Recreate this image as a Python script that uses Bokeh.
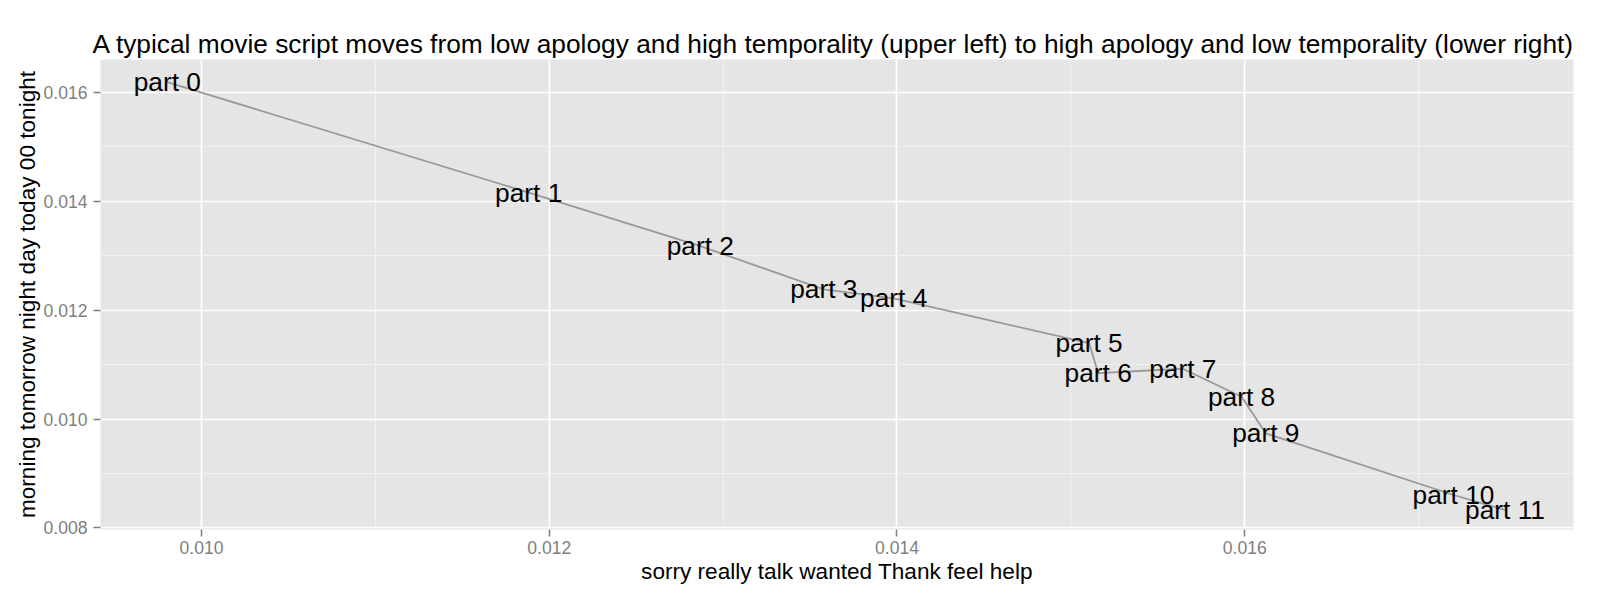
from bokeh.plotting import figure
from bokeh.models import ColumnDataSource, Range1d, FixedTicker, PrintfTickFormatter
from bokeh.core.properties import value
from bokeh.embed import file_html
from bokeh.resources import INLINE

# ---- data ----
parts = ["part 0", "part 1", "part 2", "part 3", "part 4", "part 5",
         "part 6", "part 7", "part 8", "part 9", "part 10", "part 11"]
apology = [0.009803, 0.011882, 0.012869, 0.013579, 0.013981, 0.015105,
           0.015157, 0.015644, 0.015982, 0.016121, 0.017201, 0.017497]
temporality = [0.016190, 0.014160, 0.013177, 0.012382, 0.012217, 0.011395,
               0.010845, 0.010924, 0.010410, 0.009737, 0.008604, 0.008329]

x_major = [0.010, 0.012, 0.014, 0.016]
x_minor = [0.009, 0.011, 0.013, 0.015, 0.017]
y_major = [0.008, 0.010, 0.012, 0.014, 0.016]
y_minor = [0.009, 0.011, 0.013, 0.015]

title_text = ("A typical movie script moves from low apology and high temporality "
              "(upper left) to high apology and low temporality (lower right)")
x_label = "sorry really talk wanted Thank feel help"
y_label = "morning tomorrow night day today 00 tonight"

FONT = "Liberation Sans"

src = ColumnDataSource(dict(x=apology, y=temporality, label=parts))

p = figure(width=1600, height=600, output_backend="svg", toolbar_location=None,
           x_range=Range1d(0.009419, 0.017891), y_range=Range1d(0.00797, 0.016606),
           min_border_left=100, min_border_right=27, min_border_top=59,
           min_border_bottom=71)

p.background_fill_color = "#E5E5E5"
p.border_fill_color = "white"
p.outline_line_color = None

# title
p.title.text = title_text
p.title.text_font = FONT
p.title.text_font_size = "26.3px"
p.title.text_font_style = "normal"
p.title.text_color = "black"
p.title.offset = -8
p.title.standoff = 2

# axes
for ax in (p.xaxis[0], p.yaxis[0]):
    ax.axis_line_color = None
    ax.major_tick_line_color = "#7F7F7F"
    ax.major_tick_line_width = 1.5
    ax.major_tick_out = 7
    ax.major_tick_in = 0
    ax.minor_tick_line_color = None
    ax.major_label_text_font = FONT
    ax.major_label_text_font_size = "17.6px"
    ax.major_label_text_color = "#7F7F7F"
    ax.axis_label_text_font = FONT
    ax.axis_label_text_font_size = "22.6px"
    ax.axis_label_text_font_style = "normal"
    ax.axis_label_text_color = "black"
    ax.formatter = PrintfTickFormatter(format="%.3f")

p.xaxis[0].ticker = FixedTicker(ticks=x_major, minor_ticks=x_minor)
p.yaxis[0].ticker = FixedTicker(ticks=y_major, minor_ticks=y_minor)
p.xaxis[0].axis_label = x_label
p.yaxis[0].axis_label = y_label
p.xaxis[0].major_label_standoff = 4
p.xaxis[0].axis_label_standoff = 2
p.yaxis[0].major_label_standoff = 6
p.yaxis[0].axis_label_standoff = 0
p.yaxis[0].major_label_orientation = "horizontal"

# grids
for g in (p.xgrid[0], p.ygrid[0]):
    g.grid_line_color = "white"
    g.grid_line_width = 1.7
    g.minor_grid_line_color = "#F2F2F2"
    g.minor_grid_line_width = 1

# path and labels
p.line("x", "y", source=src, line_color="#999999", line_width=1.8)
p.text("x", "y", text="label", source=src, text_font=value(FONT),
       text_font_size="26.3px", text_color="black",
       text_align="center", text_baseline="middle")

open("out.html", "w").write(file_html(p, INLINE))
